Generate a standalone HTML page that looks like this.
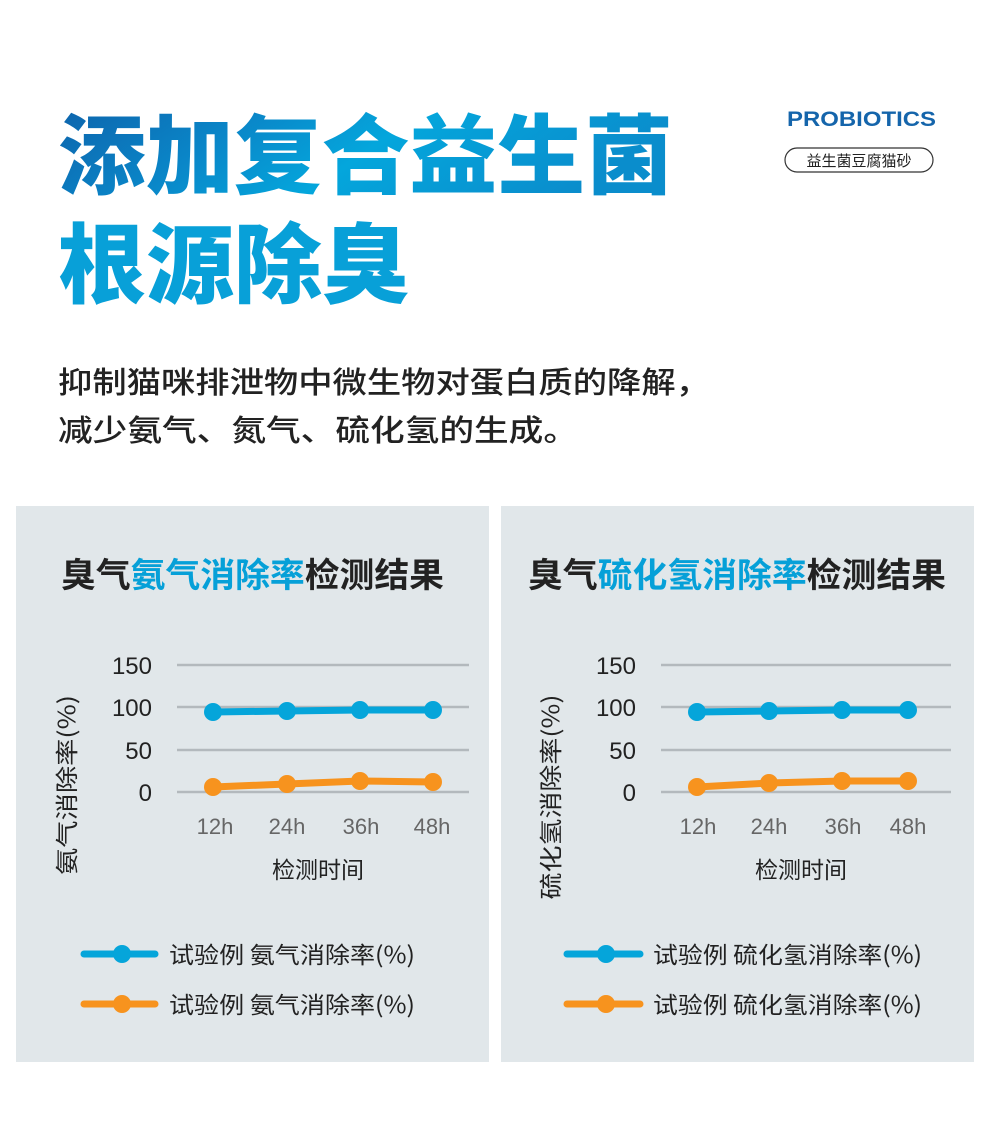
<!DOCTYPE html>
<html><head><meta charset="utf-8"><style>
body{margin:0;background:#fff;}
svg{display:block}
text{font-family:"Liberation Sans","Noto Sans CJK SC",sans-serif;}
</style></head><body>
<svg width="990" height="1148" viewBox="0 0 990 1148" xmlns="http://www.w3.org/2000/svg">
<defs>
<linearGradient id="g" x1="0" y1="0" x2="1" y2="0.3">
<stop offset="0" stop-color="#0e5fa8"/><stop offset="0.35" stop-color="#0a86c8"/><stop offset="0.6" stop-color="#04a6dc"/><stop offset="1" stop-color="#0a8dcc"/>
</linearGradient>
</defs>
<rect width="990" height="1148" fill="#fff"/>
<text x="58" y="187" font-size="87" font-weight="900" fill="url(#g)" style="font-family:'Noto Sans CJK SC',sans-serif" textLength="615" lengthAdjust="spacingAndGlyphs">添加复合益生菌</text>
<text x="58" y="296" font-size="87" font-weight="900" fill="#08a0d8" style="font-family:'Noto Sans CJK SC',sans-serif" textLength="352" lengthAdjust="spacingAndGlyphs">根源除臭</text>
<text x="787" y="126" font-size="21" font-weight="700" fill="#1565ab" textLength="149" lengthAdjust="spacingAndGlyphs">PROBIOTICS</text>
<rect x="785" y="148" width="148" height="24" rx="12" fill="none" stroke="#333" stroke-width="1.2"/>
<text x="859" y="166" font-size="15" fill="#222" text-anchor="middle" style="font-family:'Noto Sans CJK SC',sans-serif">益生菌豆腐猫砂</text>
<text x="58" y="393" font-size="30" font-weight="500" fill="#222" style="font-family:'Noto Sans CJK SC',sans-serif" textLength="652" lengthAdjust="spacingAndGlyphs">抑制猫咪排泄物中微生物对蛋白质的降解，</text>
<text x="58" y="441" font-size="30" font-weight="500" fill="#222" style="font-family:'Noto Sans CJK SC',sans-serif" textLength="520" lengthAdjust="spacingAndGlyphs">减少氨气、氮气、硫化氢的生成。</text>

<g>
<rect x="16" y="506" width="473" height="556" fill="#e1e7ea"/>
<text x="61" y="587" font-size="34" font-weight="700" fill="#222" style="font-family:'Noto Sans CJK SC',sans-serif" textLength="383" lengthAdjust="spacingAndGlyphs">臭气<tspan fill="#06a0d8">氨气消除率</tspan>检测结果</text>
<g stroke="#b3b9bd" stroke-width="2.5"><line x1="177" y1="665" x2="469" y2="665"/><line x1="177" y1="707" x2="469" y2="707"/><line x1="177" y1="750" x2="469" y2="750"/><line x1="177" y1="792" x2="469" y2="792"/></g>
<g font-size="24" fill="#222" text-anchor="end"><text x="152" y="674">150</text><text x="152" y="716">100</text><text x="152" y="759">50</text><text x="152" y="801">0</text></g>
<g font-size="22" fill="#666" text-anchor="middle"><text x="215" y="834">12h</text><text x="287" y="834">24h</text><text x="361" y="834">36h</text><text x="432" y="834">48h</text></g>
<text x="318" y="878" font-size="23" fill="#222" text-anchor="middle" style="font-family:'Noto Sans CJK SC',sans-serif">检测时间</text>
<text transform="translate(75,785) rotate(-90)" font-size="23" fill="#222" text-anchor="middle" style="font-family:'Noto Sans CJK SC',sans-serif" textLength="180" lengthAdjust="spacingAndGlyphs">氨气消除率(%)</text>
<polyline points="213,712 287,711 360,710 433,710" fill="none" stroke="#05a5da" stroke-width="7"/>
<g fill="#05a5da"><circle cx="213" cy="712" r="9"/><circle cx="287" cy="711" r="9"/><circle cx="360" cy="710" r="9"/><circle cx="433" cy="710" r="9"/></g>
<polyline points="213,787 287,784 360,781 433,782" fill="none" stroke="#f7931e" stroke-width="7"/>
<g fill="#f7931e"><circle cx="213" cy="787" r="9"/><circle cx="287" cy="784" r="9"/><circle cx="360" cy="781" r="9"/><circle cx="433" cy="782" r="9"/></g>
<line x1="84" y1="954" x2="155" y2="954" stroke="#05a5da" stroke-width="7" stroke-linecap="round"/><circle cx="122" cy="954" r="9" fill="#05a5da"/>
<line x1="84" y1="1004" x2="155" y2="1004" stroke="#f7931e" stroke-width="7" stroke-linecap="round"/><circle cx="122" cy="1004" r="9" fill="#f7931e"/>
<text x="169" y="963" font-size="23" fill="#222" style="font-family:'Noto Sans CJK SC',sans-serif" textLength="246" lengthAdjust="spacingAndGlyphs">试验例 氨气消除率(%)</text>
<text x="169" y="1013" font-size="23" fill="#222" style="font-family:'Noto Sans CJK SC',sans-serif" textLength="246" lengthAdjust="spacingAndGlyphs">试验例 氨气消除率(%)</text>
</g>

<g>
<rect x="501" y="506" width="473" height="556" fill="#e1e7ea"/>
<text x="528" y="587" font-size="34" font-weight="700" fill="#222" style="font-family:'Noto Sans CJK SC',sans-serif" textLength="418" lengthAdjust="spacingAndGlyphs">臭气<tspan fill="#06a0d8">硫化氢消除率</tspan>检测结果</text>
<g stroke="#b3b9bd" stroke-width="2.5"><line x1="661" y1="665" x2="951" y2="665"/><line x1="661" y1="707" x2="951" y2="707"/><line x1="661" y1="750" x2="951" y2="750"/><line x1="661" y1="792" x2="951" y2="792"/></g>
<g font-size="24" fill="#222" text-anchor="end"><text x="636" y="674">150</text><text x="636" y="716">100</text><text x="636" y="759">50</text><text x="636" y="801">0</text></g>
<g font-size="22" fill="#666" text-anchor="middle"><text x="698" y="834">12h</text><text x="769" y="834">24h</text><text x="843" y="834">36h</text><text x="908" y="834">48h</text></g>
<text x="801" y="878" font-size="23" fill="#222" text-anchor="middle" style="font-family:'Noto Sans CJK SC',sans-serif">检测时间</text>
<text transform="translate(559,797) rotate(-90)" font-size="23" fill="#222" text-anchor="middle" style="font-family:'Noto Sans CJK SC',sans-serif" textLength="205" lengthAdjust="spacingAndGlyphs">硫化氢消除率(%)</text>
<polyline points="697,712 769,711 842,710 908,710" fill="none" stroke="#05a5da" stroke-width="7"/>
<g fill="#05a5da"><circle cx="697" cy="712" r="9"/><circle cx="769" cy="711" r="9"/><circle cx="842" cy="710" r="9"/><circle cx="908" cy="710" r="9"/></g>
<polyline points="697,787 769,783 842,781 908,781" fill="none" stroke="#f7931e" stroke-width="7"/>
<g fill="#f7931e"><circle cx="697" cy="787" r="9"/><circle cx="769" cy="783" r="9"/><circle cx="842" cy="781" r="9"/><circle cx="908" cy="781" r="9"/></g>
<line x1="567" y1="954" x2="640" y2="954" stroke="#05a5da" stroke-width="7" stroke-linecap="round"/><circle cx="606" cy="954" r="9" fill="#05a5da"/>
<line x1="567" y1="1004" x2="640" y2="1004" stroke="#f7931e" stroke-width="7" stroke-linecap="round"/><circle cx="606" cy="1004" r="9" fill="#f7931e"/>
<text x="653" y="963" font-size="23" fill="#222" style="font-family:'Noto Sans CJK SC',sans-serif" textLength="269" lengthAdjust="spacingAndGlyphs">试验例 硫化氢消除率(%)</text>
<text x="653" y="1013" font-size="23" fill="#222" style="font-family:'Noto Sans CJK SC',sans-serif" textLength="269" lengthAdjust="spacingAndGlyphs">试验例 硫化氢消除率(%)</text>
</g>
</svg>
</body></html>
